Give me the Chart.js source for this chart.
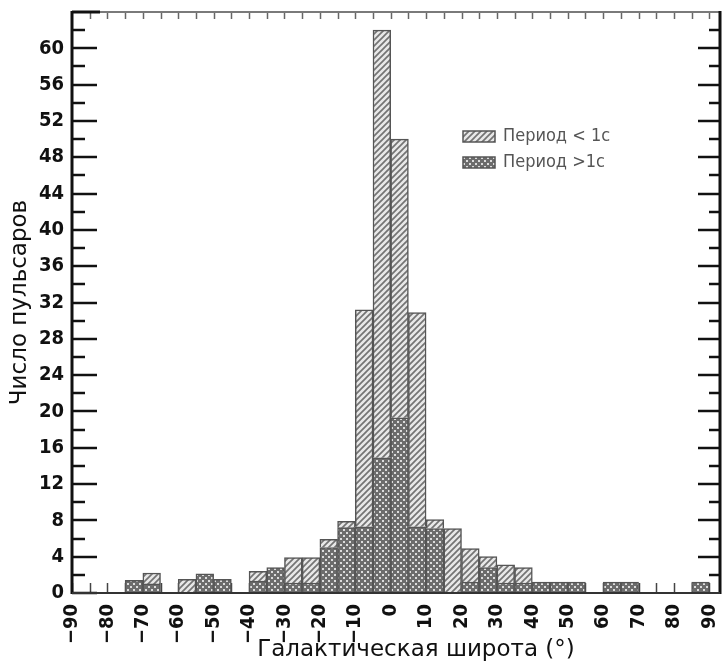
<!DOCTYPE html>
<html>
<head>
<meta charset="utf-8">
<script src="https://cdn.jsdelivr.net/npm/chart.js@4/dist/chart.umd.min.js"></script>
<style>
  html, body { margin: 0; padding: 0; background: #ffffff; }
  #wrap { width: 722px; height: 664px; }
</style>
</head>
<body>
<div id="wrap"><canvas id="c" width="722" height="664"></canvas></div>
<script>
// ---- data ----
const binCenters = [-87.5,-82.5,-77.5,-72.5,-67.5,-62.5,-57.5,-52.5,-47.5,-42.5,-37.5,-32.5,-27.5,-22.5,-17.5,-12.5,-7.5,-2.5,
                    2.5,7.5,12.5,17.5,22.5,27.5,32.5,37.5,42.5,47.5,52.5,57.5,62.5,67.5,72.5,77.5,82.5,87.5];
// pulsars with period > 1 s (cross-hatched, lower part of each bar)
const longPeriod  = [0,0,0,1.4,1.0,0,0,2.1,1.5,0,1.3,2.8,1.1,1.1,5.0,7.2,7.3,14.9,
                     19.3,7.3,7.1,0,1.2,2.8,1.1,1.1,1.2,1.2,1.2,0,1.2,1.2,0,0,0,1.2];
// pulsars with period < 1 s (diagonal hatch, stacked on top)
const shortPeriod = [0,0,0,0,1.2,0,1.5,0,0,0,1.1,0,2.8,2.8,0.9,0.7,23.9,47.1,
                     30.7,23.6,1.0,7.1,3.7,1.2,2.0,1.7,0,0,0,0,0,0,0,0,0,0];
const seriesLabels = ['Период < 1с', 'Период >1с'];
const xTickValues = [-90,-80,-70,-60,-50,-40,-30,-20,-10,0,10,20,30,40,50,60,70,80,90];
const xTickLabels = ['−90','−80','−70','−60','−50','−40','−30','−20','−10','0','10','20','30','40','50','60','70','80','90'];
const yTickLabels = ['0','4','8','12','16','20','24','28','32','36','40','44','48','52','56','60'];
const xTitle = 'Галактическая широта (°)';
const yTitle = 'Число пульсаров';

// ---- fill patterns ----
function hatchPattern() {
  const c = document.createElement('canvas'); c.width = 6; c.height = 6;
  const g = c.getContext('2d');
  g.fillStyle = '#e8e8e8'; g.fillRect(0, 0, 6, 6);
  g.strokeStyle = '#747474'; g.lineWidth = 1.7;
  g.beginPath();
  g.moveTo(-1, 7); g.lineTo(7, -1);
  g.moveTo(-4, 4); g.lineTo(4, -4);
  g.moveTo(2, 10); g.lineTo(10, 2);
  g.stroke();
  return g.createPattern(c, 'repeat');
}
function crossPattern() {
  const c = document.createElement('canvas'); c.width = 6; c.height = 6;
  const g = c.getContext('2d');
  g.fillStyle = '#6c6c6c'; g.fillRect(0, 0, 6, 6);
  g.fillStyle = '#dcdcdc';
  g.fillRect(1, 1, 2, 2);
  g.fillRect(4, 4, 2, 2);
  return g.createPattern(c, 'repeat');
}
const hatch = hatchPattern();
const cross = crossPattern();

const tickFont = { family: '"DejaVu Sans Condensed", "DejaVu Sans", sans-serif', size: 20, weight: 'bold' };
const titleFont = { family: '"DejaVu Sans", sans-serif', size: 23 };

const framePlugin = {
  id: 'frame',
  beforeDatasetsDraw(chart) {
    const { ctx, chartArea: a, scales: { x } } = chart;
    ctx.save();
    ctx.strokeStyle = '#444'; ctx.lineWidth = 1.5;
    for (let v = -90; v <= 90; v += 5) {
      const px = Math.round(x.getPixelForValue(v)) + 0.5;
      ctx.beginPath(); ctx.moveTo(px, a.bottom); ctx.lineTo(px, a.bottom - 10); ctx.stroke();
    }
    ctx.restore();
  },
  afterDatasetsDraw(chart) {
    const { ctx, chartArea: a, scales: { x, y } } = chart;
    ctx.save();
    // top ruler ticks
    ctx.strokeStyle = '#666'; ctx.lineWidth = 1.5;
    for (let v = -85; v <= 90; v += 5) {
      const px = Math.round(x.getPixelForValue(v)) + 0.5;
      ctx.beginPath(); ctx.moveTo(px, a.top); ctx.lineTo(px, a.top + 7); ctx.stroke();
    }
    // left & right value ticks
    ctx.strokeStyle = '#111'; ctx.lineWidth = 2.5;
    for (let v = 0; v <= 62; v += 2) {
      const py = Math.round(y.getPixelForValue(v));
      const long = v % 4 === 0;
      ctx.beginPath(); ctx.moveTo(a.left, py); ctx.lineTo(a.left + (long ? 25 : 13), py); ctx.stroke();
      if (v > 0) {
        ctx.beginPath(); ctx.moveTo(a.right, py); ctx.lineTo(a.right - (long ? 22 : 11), py); ctx.stroke();
      }
    }
    // frame
    ctx.strokeStyle = '#7a7a7a'; ctx.lineWidth = 2;
    ctx.beginPath(); ctx.moveTo(a.left, a.top); ctx.lineTo(a.right, a.top); ctx.stroke();
    ctx.strokeStyle = '#111'; ctx.lineWidth = 3;
    ctx.beginPath(); ctx.moveTo(a.left, a.top); ctx.lineTo(a.left + 28, a.top); ctx.stroke();
    ctx.beginPath(); ctx.moveTo(a.left, a.top - 1); ctx.lineTo(a.left, a.bottom + 1); ctx.stroke();
    ctx.beginPath(); ctx.moveTo(a.right, a.top - 1); ctx.lineTo(a.right, a.bottom + 1); ctx.stroke();
    ctx.strokeStyle = '#333'; ctx.lineWidth = 2;
    ctx.beginPath(); ctx.moveTo(a.left, a.bottom); ctx.lineTo(a.right, a.bottom); ctx.stroke();

    // legend
    const order = [1, 0];
    ctx.font = '18px "DejaVu Sans Condensed", "DejaVu Sans", sans-serif';
    ctx.textBaseline = 'middle';
    ctx.textAlign = 'left';
    order.forEach((di, i) => {
      const ds = chart.data.datasets[di];
      const bx = 463, by = 131 + i * 26, bw = 32, bh = 11;
      ctx.fillStyle = ds.backgroundColor;
      ctx.fillRect(bx, by, bw, bh);
      ctx.strokeStyle = '#555'; ctx.lineWidth = 1.5;
      ctx.strokeRect(bx, by, bw, bh);
      ctx.fillStyle = '#555';
      ctx.fillText(ds.label, bx + 40, by + bh / 2);
    });

    // x-axis title (shifted right as in the reference)
    ctx.font = titleFont.size + 'px ' + titleFont.family;
    ctx.fillStyle = '#111';
    ctx.textAlign = 'center';
    ctx.textBaseline = 'middle';
    ctx.fillText(xTitle, (a.left + a.right) / 2 + 20, 650);
    ctx.restore();
  }
};

new Chart(document.getElementById('c'), {
  type: 'bar',
  data: {
    datasets: [
      { label: seriesLabels[1], data: binCenters.map((c, i) => ({ x: c, y: longPeriod[i] })),
        backgroundColor: cross, borderColor: '#555', borderWidth: 1.5, borderSkipped: 'start' },
      { label: seriesLabels[0], data: binCenters.map((c, i) => ({ x: c, y: shortPeriod[i] })),
        backgroundColor: hatch, borderColor: '#555', borderWidth: 1.5, borderSkipped: 'start' }
    ]
  },
  options: {
    responsive: false,
    animation: false,
    devicePixelRatio: 1,
    layout: { padding: { top: 12, right: 2, left: 0, bottom: 0 } },
    datasets: { bar: { barPercentage: 1, categoryPercentage: 1 } },
    plugins: { legend: { display: false }, tooltip: { enabled: false } },
    scales: {
      x: {
        type: 'linear', stacked: true, offset: false,
        min: -90, max: 93,
        grid: { display: false, offset: false, drawTicks: false },
        border: { display: false },
        afterBuildTicks(scale) { scale.ticks = xTickValues.map(v => ({ value: v })); },
        ticks: {
          autoSkip: false, minRotation: 90, maxRotation: 90, padding: 11, color: '#111', font: tickFont,
          callback: (v) => { const k = xTickValues.indexOf(v); return k >= 0 ? xTickLabels[k] : ''; }
        },
        title: { display: false },
        afterFit(scale) { scale.height = 71; scale.paddingLeft = 0; scale.paddingRight = 0; }
      },
      y: {
        type: 'linear', stacked: true,
        min: 0, max: 64,
        grid: { display: false, drawTicks: false },
        border: { display: false },
        ticks: {
          stepSize: 4, padding: 8, color: '#111', font: tickFont,
          callback: (v) => yTickLabels.includes(String(v)) ? String(v) : ''
        },
        title: { display: true, text: yTitle, color: '#111', font: titleFont, padding: { top: 6, bottom: 0 } },
        afterFit(scale) { scale.width = 72; scale.paddingTop = 0; scale.paddingBottom = 0; }
      }
    }
  },
  plugins: [framePlugin]
});
</script>
</body>
</html>
